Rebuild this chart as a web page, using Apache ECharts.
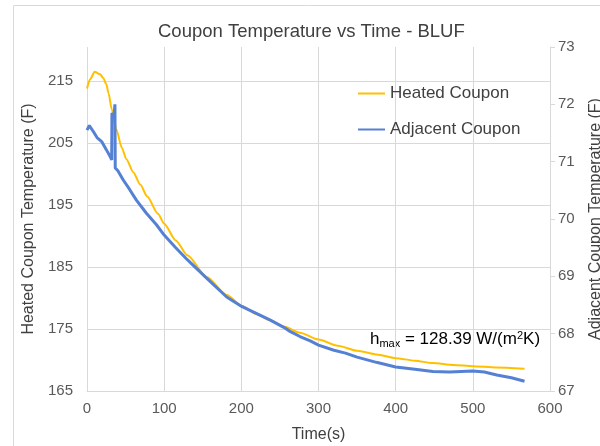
<!DOCTYPE html>
<html>
<head>
<meta charset="utf-8">
<script src="https://cdn.jsdelivr.net/npm/echarts@6/dist/echarts.min.js"></script>
<style>html,body{margin:0;padding:0;background:#fff}#c{width:600px;height:446px}</style>
</head>
<body>
<div id="c"></div>
<script>
// Heated coupon (left axis, F)
const heatedTime = [0,4,10,17,21,25,28,32,38,45,51,60,69,78,92,100,115,130,155,181,201,220,237,255,276,300,325,350,375,400,425,448,475,500,530,567];
const heatedTemp = [213.8,215.3,216.5,216.1,215.5,214.5,213.0,210.5,207.2,204.3,202.4,200.3,198.3,196.4,193.6,192.0,189.3,186.9,183.4,180.5,178.7,177.4,176.4,175.4,174.4,173.3,172.3,171.5,170.9,170.3,169.9,169.5,169.2,169.0,168.8,168.6];
// Adjacent coupon (right axis, F)
const adjTime = [0,3,8,13,19,25,30,32,32.3,34,35,36.2,36.6,40,47,55,64,77,90,100,115,130,155,181,201,220,237,255,263,276,290,300,320,335,350,375,400,425,448,470,485,500,515,531,550,567];
const adjTemp = [71.55,71.63,71.53,71.42,71.35,71.21,71.09,71.03,71.85,71.87,71.79,72.0,70.89,70.84,70.68,70.52,70.33,70.10,69.90,69.72,69.50,69.29,68.97,68.64,68.47,68.35,68.24,68.11,68.04,67.95,67.87,67.80,67.71,67.66,67.59,67.50,67.42,67.38,67.34,67.33,67.34,67.35,67.33,67.28,67.23,67.17];
const seriesNames = ['Heated Coupon','Adjacent Coupon'];
const titleText = 'Coupon Temperature vs Time - BLUF';

const FONT = 'Liberation Sans';
const chart = echarts.init(document.getElementById('c'));
chart.setOption({
  animation: false,
  textStyle: {fontFamily: FONT},
  title: {text: titleText, left: 153, top: 17, textStyle: {fontFamily: FONT, fontSize: 18.5, fontWeight: 'normal', color: '#404040'}},
  grid: {left: 87, right: 50, top: 47, bottom: 55, containLabel: false, outerBoundsMode: 'none'},
  legend: {
    orient: 'vertical', left: 353, top: 80, itemWidth: 27, itemHeight: 14, itemGap: 19,
    icon: 'path://M0,6 L27,6 L27,8 L0,8 Z',
    textStyle: {fontFamily: FONT, fontSize: 17, color: '#404040'},
    data: seriesNames
  },
  xAxis: {
    type: 'value', min: 0, max: 600, interval: 100,
    name: 'Time(s)', nameLocation: 'middle', nameGap: 36,
    nameTextStyle: {fontFamily: FONT, fontSize: 16, color: '#404040'},
    axisLine: {show: true, lineStyle: {color: '#d9d9d9'}},
    axisTick: {show: false},
    axisLabel: {fontSize: 15, color: '#595959', margin: 10},
    splitLine: {show: true, lineStyle: {color: '#d9d9d9'}}
  },
  yAxis: [{
    type: 'value', min: 165, max: 220.5, interval: 10,
    name: 'Heated Coupon Temperature (F)', nameLocation: 'middle', nameGap: 42,
    nameTextStyle: {fontFamily: FONT, fontSize: 16, color: '#404040'},
    axisLine: {show: false}, axisTick: {show: false},
    axisLabel: {fontSize: 15, color: '#595959', margin: 14, showMaxLabel: false},
    splitLine: {show: true, showMaxLine: false, lineStyle: {color: '#d9d9d9'}}
  }, {
    type: 'value', min: 67, max: 73, interval: 1, position: 'right',
    name: 'Adjacent Coupon Temperature (F)', nameLocation: 'middle', nameGap: 38,
    nameTextStyle: {fontFamily: FONT, fontSize: 16, color: '#404040'},
    axisLine: {show: true, lineStyle: {color: '#d9d9d9'}},
    axisTick: {show: true, inside: false, length: 5, lineStyle: {color: '#d9d9d9'}},
    axisLabel: {fontSize: 15, color: '#595959', margin: 8},
    splitLine: {show: false}
  }],
  graphic: [
    {type: 'rect', silent: true, shape: {x: 13.5, y: 5.5, width: 700, height: 600}, style: {fill: 'none', stroke: '#d9d9d9', lineWidth: 1}, z: -10},
    {type: 'text', left: 370, top: 330, style: {
      rich: {
        a: {fontFamily: FONT, fontSize: 17, color: '#404040'},
        sub: {fontFamily: FONT, fontSize: 11, color: '#404040', verticalAlign: 'bottom', padding: [8,0,0,0]},
        sup: {fontFamily: FONT, fontSize: 11, color: '#404040', verticalAlign: 'top', padding: [0,0,8,0]}
      },
      text: '{a|h}{sub|max}{a| = 128.39 W/(m}{sup|2}{a|K)}'
    }}
  ],
  series: [{
    name: seriesNames[0], type: 'line', yAxisIndex: 0, showSymbol: false, symbol: 'none', smooth: 0.25, smoothMonotone: 'x',
    lineStyle: {color: '#FFC000', width: 2}, itemStyle: {color: '#FFC000'},
    data: heatedTime.map((t, i) => [t, heatedTemp[i]])
  }, {
    name: seriesNames[1], type: 'line', yAxisIndex: 1, showSymbol: false, symbol: 'none',
    lineStyle: {color: '#5581d4', width: 3}, itemStyle: {color: '#5581d4'},
    data: adjTime.map((t, i) => [t, adjTemp[i]])
  }]
});
</script>
</body>
</html>
